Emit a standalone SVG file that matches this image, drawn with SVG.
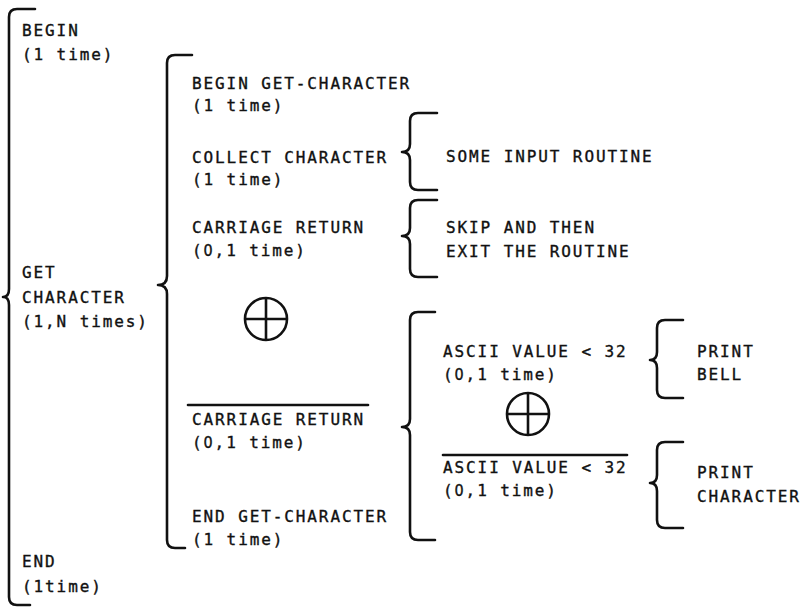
<svg xmlns="http://www.w3.org/2000/svg" width="800" height="608" viewBox="0 0 800 608">
  <style>
    text { font-family: "DejaVu Sans Mono", "Liberation Mono", monospace; font-size: 16px; letter-spacing: 1.9px; fill: #111; stroke: #111; stroke-width: 0.35px; }
    .z { font-family: "DejaVu Sans Condensed", "DejaVu Sans", sans-serif; }
    .brace { fill: none; stroke: #111; stroke-width: 2.6; stroke-linecap: round; stroke-linejoin: round; }
    .bar { stroke: #111; stroke-width: 2.6; stroke-linecap: round; }
    .xor { fill: none; stroke: #111; stroke-width: 2.6; }
  </style>
  <rect width="800" height="608" fill="#fff"/>

  <!-- braces grouping each level of the hierarchy -->
  <g id="connectors">
    <!-- program: BEGIN / GET CHARACTER / END -->
    <path class="brace" d="M35 9 L17 9 Q9 9 9 17 L9 289 Q9 297 3 297 Q9 297 9 305 L9 597 Q9 605 17 605 L30 605"/>
    <!-- GET CHARACTER body -->
    <path class="brace" d="M192 55 L175 55 Q167 55 167 63 L167 276 Q167 285 158 285 Q167 285 167 294 L167 540 Q167 548 175 548 L185 548"/>
    <!-- COLLECT CHARACTER -->
    <path class="brace" d="M437 113 L418 113 Q410 113 410 121 L410 144 Q410 152 402 152 Q410 152 410 160 L410 182 Q410 190 418 190 L437 190"/>
    <!-- CARRIAGE RETURN -->
    <path class="brace" d="M437 200 L418 200 Q410 200 410 208 L410 228 Q410 236 402 236 Q410 236 410 244 L410 269 Q410 277 418 277 L437 277"/>
    <!-- NOT CARRIAGE RETURN -->
    <path class="brace" d="M435 312 L418 312 Q410 312 410 320 L410 419 Q410 427 402 427 Q410 427 410 435 L410 532 Q410 540 418 540 L435 540"/>
    <!-- ASCII VALUE < 32 -->
    <path class="brace" d="M683 320 L665 320 Q657 320 657 328 L657 352 Q657 360 650 360 Q657 360 657 368 L657 390 Q657 398 665 398 L683 398"/>
    <!-- NOT ASCII VALUE < 32 -->
    <path class="brace" d="M683 442 L665 442 Q657 442 657 450 L657 475 Q657 483 650 483 Q657 483 657 491 L657 520 Q657 528 665 528 L683 528"/>
  </g>

  <!-- level 1 -->
  <g id="begin">
    <text x="22" y="36">BEGIN</text>
    <text x="22" y="60">(1 time)</text>
  </g>
  <g id="get-character">
    <text x="22" y="278">GET</text>
    <text x="22" y="303">CHARACTER</text>
    <text x="22" y="327">(1,N times)</text>
  </g>
  <g id="end">
    <text x="22" y="567">END</text>
    <text x="22" y="592">(1time)</text>
  </g>

  <!-- level 2 -->
  <g id="begin-get-character">
    <text x="192" y="89">BEGIN GET-CHARACTER</text>
    <text x="192" y="111">(1 time)</text>
  </g>
  <g id="collect-character">
    <text x="192" y="163">COLLECT CHARACTER</text>
    <text x="192" y="185">(1 time)</text>
  </g>
  <g id="carriage-return">
    <text x="192" y="233">CARRIAGE RETURN</text>
    <text x="192" y="256">(<tspan class="z">0</tspan>,1 time)</text>
  </g>
  <g id="exclusive-or-1">
    <circle class="xor" cx="266" cy="319" r="21"/>
    <line class="xor" x1="245" y1="319" x2="287" y2="319"/>
    <line class="xor" x1="266" y1="298" x2="266" y2="340"/>
  </g>
  <g id="not-carriage-return">
    <line class="bar" x1="188" y1="405" x2="368" y2="405"/>
    <text x="192" y="425">CARRIAGE RETURN</text>
    <text x="192" y="448">(<tspan class="z">0</tspan>,1 time)</text>
  </g>
  <g id="end-get-character">
    <text x="192" y="522">END GET-CHARACTER</text>
    <text x="192" y="545">(1 time)</text>
  </g>

  <!-- level 3 -->
  <g id="some-input-routine">
    <text x="446" y="162">SOME INPUT ROUTINE</text>
  </g>
  <g id="skip-exit">
    <text x="446" y="233">SKIP AND THEN</text>
    <text x="446" y="257">EXIT THE ROUTINE</text>
  </g>
  <g id="ascii-below-32">
    <text x="443" y="357">ASCII VALUE &lt; 32</text>
    <text x="443" y="380">(<tspan class="z">0</tspan>,1 time)</text>
  </g>
  <g id="exclusive-or-2">
    <circle class="xor" cx="528" cy="414" r="21"/>
    <line class="xor" x1="507" y1="414" x2="549" y2="414"/>
    <line class="xor" x1="528" y1="393" x2="528" y2="435"/>
  </g>
  <g id="not-ascii-below-32">
    <line class="bar" x1="443" y1="455" x2="627" y2="455"/>
    <text x="443" y="473">ASCII VALUE &lt; 32</text>
    <text x="443" y="496">(<tspan class="z">0</tspan>,1 time)</text>
  </g>

  <!-- level 4 -->
  <g id="print-bell">
    <text x="697" y="357">PRINT</text>
    <text x="697" y="380">BELL</text>
  </g>
  <g id="print-character">
    <text x="697" y="478">PRINT</text>
    <text x="697" y="502">CHARACTER</text>
  </g>
</svg>
